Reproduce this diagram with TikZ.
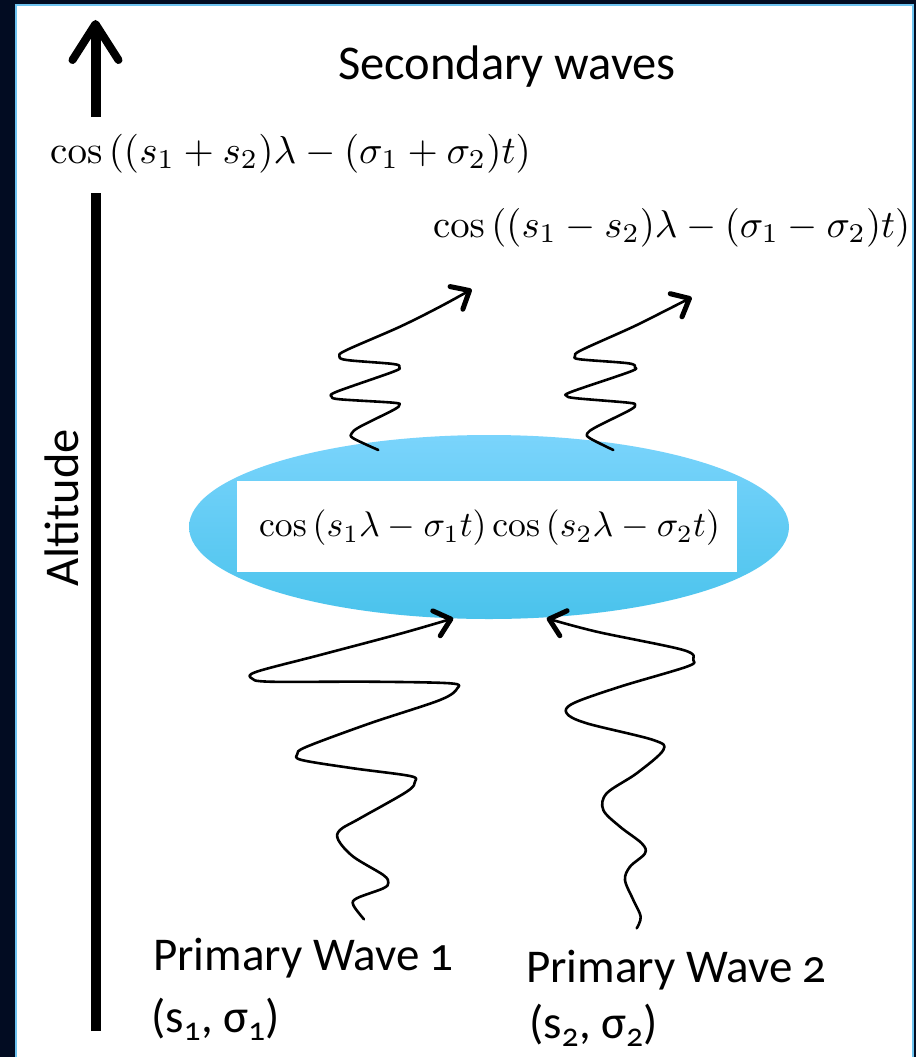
\documentclass[tikz,border=0pt]{standalone}
\usepackage[no-math]{fontspec}
\setmainfont{Carlito}[Numbers=OldStyle]
\usetikzlibrary{arrows.meta,shapes.geometric}
\definecolor{navy}{RGB}{2,12,34}
\definecolor{rim}{RGB}{110,195,240}
\definecolor{blobtop}{RGB}{122,212,252}
\definecolor{blobbot}{RGB}{74,195,236}
\tikzset{
  wave/.style={line width=2.6pt, line cap=round, line join=round},
  wavetip/.style={-{Straight Barb[length=15pt,width=26pt,line width=5pt,round]}},
  lbl/.style={font=\fontsize{47}{56}\selectfont, inner sep=0pt, anchor=base west},
  biglbl/.style={font=\fontsize{48.5}{58}\selectfont, inner sep=0pt},
  eqn/.style={inner sep=0pt, anchor=base west},
  blob/.style={ellipse, draw=none, minimum width=600pt, minimum height=184pt, top color=blobtop, bottom color=blobbot},
  whitebox/.style={rectangle, fill=white, draw=none, minimum width=500pt, minimum height=91pt, inner sep=0pt},
}
\begin{document}
\begin{tikzpicture}[x=1pt,y=-1pt]
\fill[navy] (0,0) rectangle (916,1057);
\path[use as bounding box] (0,0) rectangle (916,1057);
\draw[rim, line width=2pt, fill=white] (16,5) rectangle (913,1070);

% altitude axis
\coordinate (barlow) at (95.5,1031);
\coordinate (barmid) at (95.5,193);
\coordinate (arrowfoot) at (95.5,117);
\coordinate (arrowtip) at (95.5,20);
\draw[line width=10pt] (barlow) -- (barmid);
\draw[line width=10pt, -{Straight Barb[length=36pt,width=46pt,line width=8pt,round]}] (arrowfoot) -- (arrowtip);

\node[biglbl, anchor=base] (sec) at (507,80) {Secondary waves};
\node[biglbl, rotate=90, anchor=base] (alt) at (78,508) {Altitude};

\node[eqn] (f1) at (50,163) {\scalebox{3.9}{$\cos\left((s_1+s_2)\lambda-(\sigma_1+\sigma_2)t\right)$}};
\node[eqn] (f2) at (433,237) {\scalebox{3.87}{$\cos\left((s_1-s_2)\lambda-(\sigma_1-\sigma_2)t\right)$}};

% interaction region
\node[blob] (blob) at (489,527) {};
\node[whitebox] (box) at (487,526.5) {};
\node[inner sep=0pt] (f0) at (489.5,528) {\scalebox{3.56}{$\cos\left(s_1\lambda-\sigma_1 t\right)\cos\left(s_2\lambda-\sigma_2 t\right)$}};

% secondary waves
\coordinate (ulstart) at (378.3,450);
\coordinate (ultip) at (471.7,289.3);
\coordinate (urstart) at (613.3,450);
\coordinate (urtip) at (691.7,297.3);
\draw[wave, wavetip] plot[smooth, tension=0.55] coordinates {(ulstart) (353.3,438.3) (351.7,433.3) (360,426.7) (393.3,410) (399.3,405) (393.3,402.7) (340,399.3) (331.7,396.7) (336.7,391.7) (393.3,371.7) (399.3,367.3) (393.3,364) (346.7,360) (339.3,356) (346.7,350) (400,326.7) (440,306.7) (ultip)};
\draw[wave, wavetip] plot[smooth, tension=0.55] coordinates {(urstart) (590,438.3) (587.3,433.3) (596.7,426.7) (630,410) (635,405) (628.3,402.7) (576.7,398.3) (566.7,396) (571.7,391.7) (630,371.7) (635,367.3) (628.3,363.3) (580,359.3) (575,356) (581.7,350) (633.3,326.7) (666.7,310) (urtip)};

% primary waves
\coordinate (p1start) at (364,919.3);
\coordinate (p1tip) at (453.3,618.3);
\coordinate (p2start) at (636.7,928.3);
\coordinate (p2tip) at (546.7,618.3);
\draw[wave, wavetip] plot[smooth, tension=0.55] coordinates {(p1start) (353.3,905) (356.7,898.3) (383.3,888.3) (388.3,882.7) (383.3,875) (353.3,856.7) (338.3,840) (340,830) (360,818.3) (406.7,791.7) (415,781.7) (410,776) (353.3,768.3) (301.7,760) (297.3,754) (306.7,746.7) (370,723.3) (440,700) (457.3,688.3) (450,683.3) (370,681.7) (270,681.7) (251.7,678.3) (256.7,671.7) (320,655) (401.7,633.3) (p1tip)};
\draw[wave, wavetip] plot[smooth, tension=0.55] coordinates {(p2start) (640.7,916.7) (633.3,900) (625,880) (630,866.7) (645,853.3) (641.7,843.3) (620,826.7) (603.3,810) (606.7,793.3) (636.7,773.3) (663.3,750) (653.3,740) (586.7,723.3) (566.7,713.3) (573.3,703.3) (620,686.7) (686.7,666.7) (693.3,660) (683.3,650) (596.7,631.7) (p2tip)};

\node[lbl] (pw1) at (153,970) {Primary Wave 1};
\node[lbl] (pw1p) at (151,1032) {(s\textsubscript{1}, σ\textsubscript{1})};
\node[lbl] (pw2) at (526,982) {Primary Wave 2};
\node[lbl] (pw2p) at (529,1038) {(s\textsubscript{2}, σ\textsubscript{2})};
\end{tikzpicture}
\end{document}
